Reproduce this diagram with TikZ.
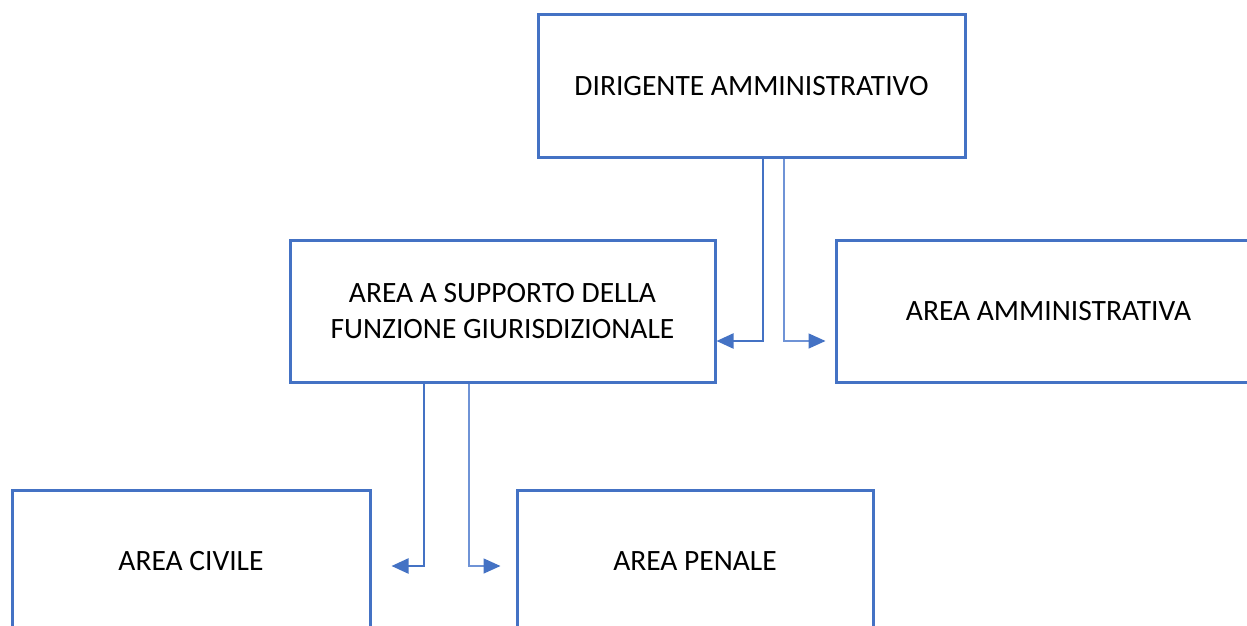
\documentclass[tikz,border=0pt]{standalone}
\usepackage{fontspec}
\setmainfont{Carlito}
\usepackage{tikz}
\usetikzlibrary{arrows.meta}

\definecolor{boxblue}{HTML}{4472C4}
\definecolor{lineblue}{HTML}{6F93D6}

\tikzset{
  areabox/.style={draw=boxblue,line width=3pt,fill=white,minimum height=142pt,
    align=center,font=\fontsize{29.5}{36}\selectfont,inner sep=0pt},
  conn/.style={draw=boxblue,line width=2.3pt,-{Triangle[length=17pt,width=15pt]}},
  connlight/.style={draw=lineblue,line width=1.5pt,
    arrows={-{Triangle[length=17pt,width=15pt,color=boxblue]}}}
}

\begin{document}
\begin{tikzpicture}[x=1pt,y=-1pt]
\clip (0,0) rectangle (1247,626);
\fill[white] (0,0) rectangle (1247,626);

% boxes
\node[areabox,minimum width=427pt] (dir) at (751.5,86) {DIRIGENTE AMMINISTRATIVO};
\node[areabox,minimum width=425pt] (giur) at (502.5,311)
  {AREA A SUPPORTO DELLA\\FUNZIONE GIURISDIZIONALE};
\node[areabox,minimum width=425pt] (amm) at (1048.5,311) {AREA AMMINISTRATIVA};
\node[areabox,minimum width=358pt] (civ) at (191,561) {AREA CIVILE};
\node[areabox,minimum width=356pt] (pen) at (695,561) {AREA PENALE};

% connectors
\draw[conn] ([xshift=11.5pt]dir.south) |- ([yshift=-30pt]giur.east);
\draw[connlight] ([xshift=32.5pt]dir.south) |- ([xshift=-9pt,yshift=-30pt]amm.west);
\draw[conn] ([xshift=-78.5pt]giur.south) |- ([xshift=20pt,yshift=-5pt]civ.east);
\draw[connlight] ([xshift=-33.5pt]giur.south) |- ([xshift=-15pt,yshift=-5pt]pen.west);
\end{tikzpicture}
\end{document}
